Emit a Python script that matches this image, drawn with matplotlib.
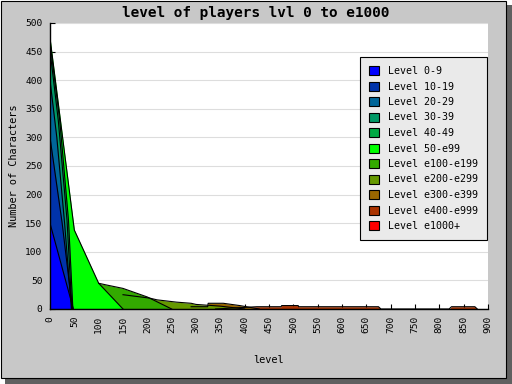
import matplotlib
matplotlib.use("Agg")
import matplotlib.pyplot as plt
from matplotlib.patches import Rectangle, Patch

# ── data ─────────────────────────────────────────────────────────────────
series_names = ["Level 0-9", "Level 10-19", "Level 20-29", "Level 30-39",
                "Level 40-49", "Level 50-e99", "Level e100-e199",
                "Level e200-e299", "Level e300-e399", "Level e400-e999",
                "Level e1000+"]
series_colors = ["#0000ff", "#0033aa", "#006699", "#009966", "#00aa44",
                 "#00ff00", "#33aa00", "#669900", "#996600", "#aa3300",
                 "#ff0000"]

x_0_9 = [0, 48];                 y_0_9 = [150, 0]
x_10_19 = [0, 25, 46];           y_10_19 = [300, 150, 0]
x_20_29 = [0, 14, 30, 44];       y_20_29 = [400, 300, 150, 0]
x_30_39 = [0, 17, 35, 45];       y_30_39 = [452, 330, 155, 0]
x_40_49 = [0, 20, 38, 47];       y_40_49 = [466, 330, 155, 0]
x_50_e99 = [0, 50, 100, 150]
y_50_e99 = [474, 138, 45, 0]
x_e100 = [100, 116, 150, 200, 250]
y_e100 = [45, 42, 36, 21, 0]
x_e200 = [150, 205, 220, 240, 260, 290, 300, 350, 400]
y_e200 = [25, 19, 16, 14, 12, 10, 8, 5, 0]
x_e300 = [290, 324, 325, 356, 390, 430]
y_e300 = [4, 4, 10, 10, 6, 0]
x_e400 = [340, 425, 475, 476, 510, 511, 675, 680, 820, 825, 873, 878]
y_e400 = [0, 4, 4, 6, 6, 4, 4, 0, 0, 4, 4, 0]
x_e1000 = [0, 900];              y_e1000 = [0, 0]

series_x = [x_0_9, x_10_19, x_20_29, x_30_39, x_40_49, x_50_e99,
            x_e100, x_e200, x_e300, x_e400, x_e1000]
series_y = [y_0_9, y_10_19, y_20_29, y_30_39, y_40_49, y_50_e99,
            y_e100, y_e200, y_e300, y_e400, y_e1000]

x_ticks = list(range(0, 901, 50))
y_ticks = list(range(0, 501, 50))

MONO = "DejaVu Sans Mono"

# ── figure with jpgraph-like frame + shadow ─────────────────────────────
fig = plt.figure(figsize=(5.12, 3.84), dpi=100)
fig.patch.set_facecolor("white")
fig.patches.append(Rectangle((5 / 512, 0), 1 - 5 / 512, 1 - 5 / 384,
                             transform=fig.transFigure, facecolor="#606060",
                             edgecolor="none", zorder=-10))
fig.patches.append(Rectangle((0.5 / 512, 6 / 384), 505 / 512, 377.5 / 384,
                             transform=fig.transFigure, facecolor="#c8c8c8",
                             edgecolor="black", lw=0.8, zorder=-9))

ax = fig.add_axes([50 / 512, 75 / 384, 438 / 512, 286 / 384])
ax.set_facecolor("white")

for yv in y_ticks[1:]:
    ax.axhline(yv, color="#dddddd", lw=0.8, zorder=0)

# last series first so the low levels end up on top
for xs, ys, c in reversed(list(zip(series_x, series_y, series_colors))):
    ax.fill_between(xs, ys, 0, color=c, lw=0, zorder=2)
    ax.plot(xs, ys, color="black", lw=0.8, zorder=3)

ax.set_xlim(0, 900)
ax.set_ylim(0, 500)
ax.set_xticks(x_ticks)
ax.set_yticks(y_ticks)
ax.tick_params(axis="both", direction="in", length=3.6, width=0.8,
               labelsize=6.8, colors="black")
ax.tick_params(axis="x", pad=5, labelrotation=90)
ax.tick_params(axis="y", pad=5.5)
for lab in ax.get_xticklabels() + ax.get_yticklabels():
    lab.set_fontfamily(MONO)
for s in ("top", "right"):
    ax.spines[s].set_visible(False)
for s in ("left", "bottom"):
    ax.spines[s].set_linewidth(1.0)
    ax.spines[s].set_zorder(4)

ax.set_ylabel("Number of Characters", fontsize=7.4, family=MONO)
ax.yaxis.set_label_coords(-0.071, 0.5)
ax.set_xlabel("level", fontsize=7.4, family=MONO, va="center")
ax.xaxis.set_label_coords(0.5, -0.178)

fig.text(256 / 512, 1 - 12.5 / 384, "level of players lvl 0 to e1000",
         ha="center", va="center", fontsize=10.4, fontweight="bold",
         family=MONO)

handles = [Patch(facecolor=c, edgecolor="black", lw=0.8) for c in series_colors]
leg = ax.legend(handles, series_names, loc="upper right",
                bbox_to_anchor=(487 / 512, 1 - 57 / 384),
                bbox_transform=fig.transFigure, prop={"family": MONO, "size": 7.2},
                frameon=True, fancybox=False, framealpha=1,
                facecolor="#eaeaea", edgecolor="black",
                handlelength=1.0, handleheight=1.0, handletextpad=0.95,
                labelspacing=0.55, borderpad=0.9, borderaxespad=0)
leg.get_frame().set_linewidth(0.8)
leg.set_zorder(10)

fig.savefig("out.png", dpi=100)
